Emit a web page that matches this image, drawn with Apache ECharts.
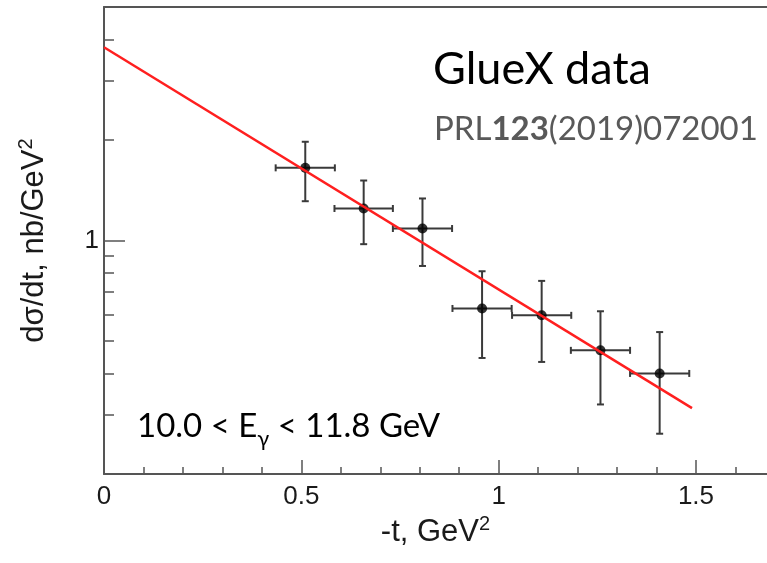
<!DOCTYPE html>
<html>
<head>
<meta charset="utf-8">
<script src="https://cdn.jsdelivr.net/npm/echarts@6/dist/echarts.min.js"></script>
<style>
  html, body { margin: 0; padding: 0; background: #fff; }
  #chart { width: 767px; height: 563px; }
</style>
</head>
<body>
<div id="chart"></div>
<script>
// GlueX J/psi photoproduction, d(sigma)/dt vs -t (log scale)
const tBins = [0.51, 0.658, 0.807, 0.958, 1.109, 1.258, 1.408]
const tHalfWidth = [0.075, 0.074, 0.075, 0.075, 0.075, 0.075, 0.075]
const xsec = [1.65, 1.247, 1.086, 0.626, 0.597, 0.469, 0.400]
const xsecHigh = [1.975, 1.512, 1.336, 0.809, 0.757, 0.614, 0.532]
const xsecLow = [1.311, 0.975, 0.839, 0.445, 0.433, 0.323, 0.264]

// exponential fit, straight on the log axis
const fitT = [0, 1.49]
const fitXsec = [3.79, 0.315]

const xMajorTicks = [0, 0.5, 1, 1.5]
const xMinorTicks = [0.1, 0.2, 0.3, 0.4, 0.6, 0.7, 0.8, 0.9, 1.1, 1.2, 1.3, 1.4, 1.6]
const yMajorTicks = [1]
const yMinorTicks = [0.3, 0.4, 0.5, 0.6, 0.7, 0.8, 0.9, 2, 3, 4]

const axisColor = '#555'
const labelFont = 'Liberation Sans, Arial, sans-serif'
const labelColor = '#1a1a1a'

const chart = echarts.init(document.getElementById('chart'))

const errorData = tBins.map((t, i) => [
  t, xsec[i], t - tHalfWidth[i], t + tHalfWidth[i], xsecLow[i], xsecHigh[i]
])

const renderErrorBar = (params, api) => {
  const c = api.coord([api.value(0), api.value(1)])
  const l = api.coord([api.value(2), api.value(1)])
  const r = api.coord([api.value(3), api.value(1)])
  const lo = api.coord([api.value(0), api.value(4)])
  const hi = api.coord([api.value(0), api.value(5)])
  const cap = 3.5
  const style = { stroke: '#3a3a3a', lineWidth: 2 }
  const seg = (x1, y1, x2, y2) => ({ type: 'line', shape: { x1, y1, x2, y2 }, style })
  return {
    type: 'group',
    children: [
      seg(c[0], lo[1], c[0], hi[1]),
      seg(c[0] - cap, lo[1], c[0] + cap, lo[1]),
      seg(c[0] - cap, hi[1], c[0] + cap, hi[1]),
      seg(l[0], c[1], r[0], c[1]),
      seg(l[0], c[1] - cap, l[0], c[1] + cap),
      seg(r[0], c[1] - cap, r[0], c[1] + cap)
    ]
  }
}

const nameRich = {
  n: { fontFamily: labelFont, fontSize: 31, color: labelColor, lineHeight: 36 },
  s: { fontFamily: labelFont, fontSize: 20, color: labelColor, lineHeight: 24, verticalAlign: 'top' }
}

const option = {
  animation: false,
  backgroundColor: '#fff',
  grid: { left: 104, top: 7, right: 0, bottom: 89 },
  xAxis: [
    {
      type: 'value',
      min: 0, max: 1.68,
      name: '{n|-t, GeV}{s|2}',
      nameLocation: 'middle',
      nameGap: 33,
      nameTextStyle: { rich: nameRich },
      axisLine: { lineStyle: { color: axisColor, width: 2 } },
      axisTick: { inside: true, length: 14, customValues: xMajorTicks, lineStyle: { color: axisColor, width: 1.5 } },
      axisLabel: { margin: 10, customValues: xMajorTicks, fontFamily: labelFont, fontSize: 26, color: labelColor },
      splitLine: { show: false }
    },
    {
      type: 'value',
      min: 0, max: 1.68,
      position: 'bottom',
      axisLine: { show: false },
      axisTick: { inside: true, length: 7, customValues: xMinorTicks, lineStyle: { color: axisColor, width: 1.5 } },
      axisLabel: { show: false },
      splitLine: { show: false }
    },
    {
      type: 'value',
      min: 0, max: 1.68,
      position: 'top',
      axisLine: { show: true, lineStyle: { color: axisColor, width: 2 } },
      axisTick: { show: false },
      axisLabel: { show: false },
      splitLine: { show: false }
    }
  ],
  yAxis: [
    {
      type: 'log',
      logBase: 10,
      min: 0.2, max: 5,
      name: '{n|d\u03c3/dt, nb/GeV}{s|2}',
      nameLocation: 'middle',
      nameGap: 52,
      nameTextStyle: { rich: nameRich },
      axisLine: { show: true, lineStyle: { color: axisColor, width: 2 } },
      axisTick: { inside: true, length: 21, customValues: yMajorTicks, lineStyle: { color: axisColor, width: 1.5 } },
      axisLabel: { margin: 5, customValues: yMajorTicks, fontFamily: labelFont, fontSize: 26, color: labelColor },
      splitLine: { show: false }
    },
    {
      type: 'log',
      logBase: 10,
      min: 0.2, max: 5,
      position: 'left',
      axisLine: { show: false },
      axisTick: { inside: true, length: 10, customValues: yMinorTicks, lineStyle: { color: axisColor, width: 1.5 } },
      axisLabel: { show: false },
      splitLine: { show: false }
    }
  ],
  series: [
    {
      type: 'custom',
      renderItem: renderErrorBar,
      data: errorData,
      encode: { x: [0, 2, 3], y: [1, 4, 5] },
      z: 2
    },
    {
      type: 'scatter',
      data: tBins.map((t, i) => [t, xsec[i]]),
      symbol: 'circle',
      symbolSize: 10,
      itemStyle: { color: '#000' },
      z: 3
    },
    {
      type: 'line',
      data: fitT.map((t, i) => [t, fitXsec[i]]),
      showSymbol: false,
      lineStyle: { color: '#ff1f1f', width: 2.5 },
      z: 4
    }
  ],
  graphic: [
    {
      type: 'text',
      x: 433, y: 69,
      style: {
        text: 'GlueX data',
        font: '45px Lato, "Open Sans", sans-serif',
        fill: '#000',
        verticalAlign: 'middle'
      }
    },
    {
      type: 'text',
      x: 434, y: 129,
      style: {
        text: '{n|PRL}{b|123}{n|(2019)072001}',
        verticalAlign: 'middle',
        rich: {
          n: { fontFamily: 'Lato', fontSize: 33, fill: '#595959' },
          b: { fontFamily: 'Lato', fontSize: 33, fontWeight: 'bold', fill: '#595959' }
        }
      }
    },
    {
      type: 'text',
      x: 137, y: 429,
      style: {
        text: '{m|10.0 < E}{s|\u03b3}{m| < 11.8 GeV}',
        verticalAlign: 'middle',
        rich: {
          m: { fontFamily: 'Lato', fontSize: 33, fill: '#000', lineHeight: 38, verticalAlign: 'top' },
          s: { fontFamily: 'Lato', fontSize: 22, fill: '#000', lineHeight: 20, padding: [18, 0, 0, 0], verticalAlign: 'top' }
        }
      }
    }
  ]
}

chart.setOption(option)
</script>
</body>
</html>
